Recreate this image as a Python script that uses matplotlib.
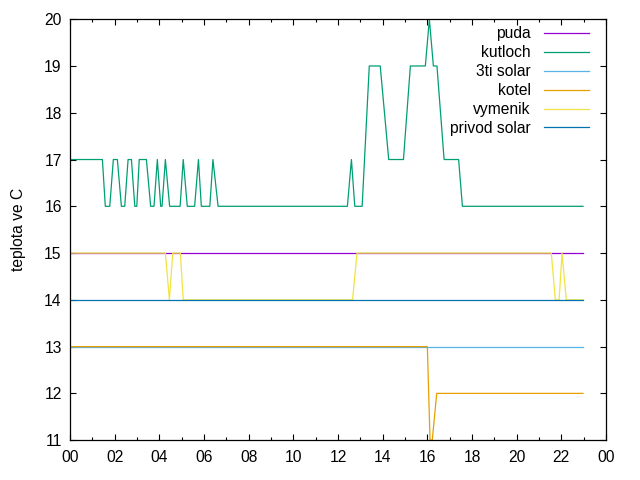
import matplotlib
matplotlib.use("Agg")
import matplotlib.pyplot as plt
from matplotlib.ticker import MultipleLocator

plt.rcParams['font.family'] = ['Liberation Sans', 'DejaVu Sans']

# hodiny a teploty
puda_t = [0, 22.97]
puda_v = [15, 15]

kutloch_t = [0, 1.45, 1.58, 1.78, 1.94, 2.12, 2.30, 2.45, 2.60, 2.75, 2.90, 2.99,
             3.10, 3.42, 3.61, 3.76, 3.91, 4.06, 4.12, 4.27, 4.46, 4.93, 5.07,
             5.25, 5.58, 5.75, 5.88, 6.26, 6.40, 6.63, 12.42, 12.60, 12.75,
             13.08, 13.40, 13.89, 14.27, 14.93, 15.24, 15.91, 16.09, 16.27,
             16.43, 16.75, 17.40, 17.57, 22.97]
kutloch_v = [17, 17, 16, 16, 17, 17, 16, 16, 17, 17, 16, 16,
             17, 17, 16, 16, 17, 16, 16, 17, 16, 16, 17,
             16, 16, 17, 16, 16, 17, 16, 16, 17, 16,
             16, 19, 19, 17, 17, 19, 19, 20, 19,
             19, 17, 17, 16, 16]

solar3_t = [0, 22.97]
solar3_v = [13, 13]

kotel_t = [0, 16.0, 16.12, 16.22, 16.42, 22.97]
kotel_v = [13, 13, 11, 11, 12, 12]

vymenik_t = [0, 4.27, 4.45, 4.60, 4.94, 5.07, 12.65, 12.85, 21.55, 21.73,
             21.90, 22.03, 22.22, 22.97]
vymenik_v = [15, 15, 14, 15, 15, 14, 14, 15, 15, 14, 14, 15, 14, 14]

privod_t = [0, 22.97]
privod_v = [14, 14]

fig = plt.figure(figsize=(6.4, 4.8), dpi=100)
ax = fig.add_axes([0.1094, 0.083, 0.8375, 0.877])

lw = 0.9
ax.plot(puda_t, puda_v, color='#9400d3', lw=lw, label='puda')
ax.plot(kutloch_t, kutloch_v, color='#009e73', lw=lw, label='kutloch')
ax.plot(solar3_t, solar3_v, color='#56b4e9', lw=lw, label='3ti solar')
ax.plot(kotel_t, kotel_v, color='#e69f00', lw=lw, label='kotel')
ax.plot(vymenik_t, vymenik_v, color='#f0e442', lw=lw, label='vymenik')
ax.plot(privod_t, privod_v, color='#0072b2', lw=lw, label='privod solar')

ax.set_xlim(0, 24)
ax.set_ylim(11, 20)
ax.xaxis.set_minor_locator(MultipleLocator(1))
ax.yaxis.set_major_locator(MultipleLocator(1))
ax.set_xticks(range(0, 25, 2))
ax.set_xticklabels([f"{h % 24:02d}" for h in range(0, 25, 2)])
ax.tick_params(which='both', direction='in', top=True, right=True,
               labelsize=11.25, width=0.8)
ax.tick_params(which='major', length=4.5)
ax.tick_params(which='minor', length=2.5)
ax.tick_params(axis='x', pad=7)
ax.tick_params(axis='y', pad=6)
for s in ax.spines.values():
    s.set_linewidth(0.9)

ax.set_ylabel('teplota ve C', fontsize=11.25, labelpad=13)

leg = ax.legend(loc='upper right', bbox_to_anchor=(0.968, 0.983),
                markerfirst=False, frameon=False, fontsize=11.25,
                handlelength=2.88, handletextpad=0.85, labelspacing=0.25,
                borderpad=0, borderaxespad=0)

plt.savefig("out.png", dpi=100)
